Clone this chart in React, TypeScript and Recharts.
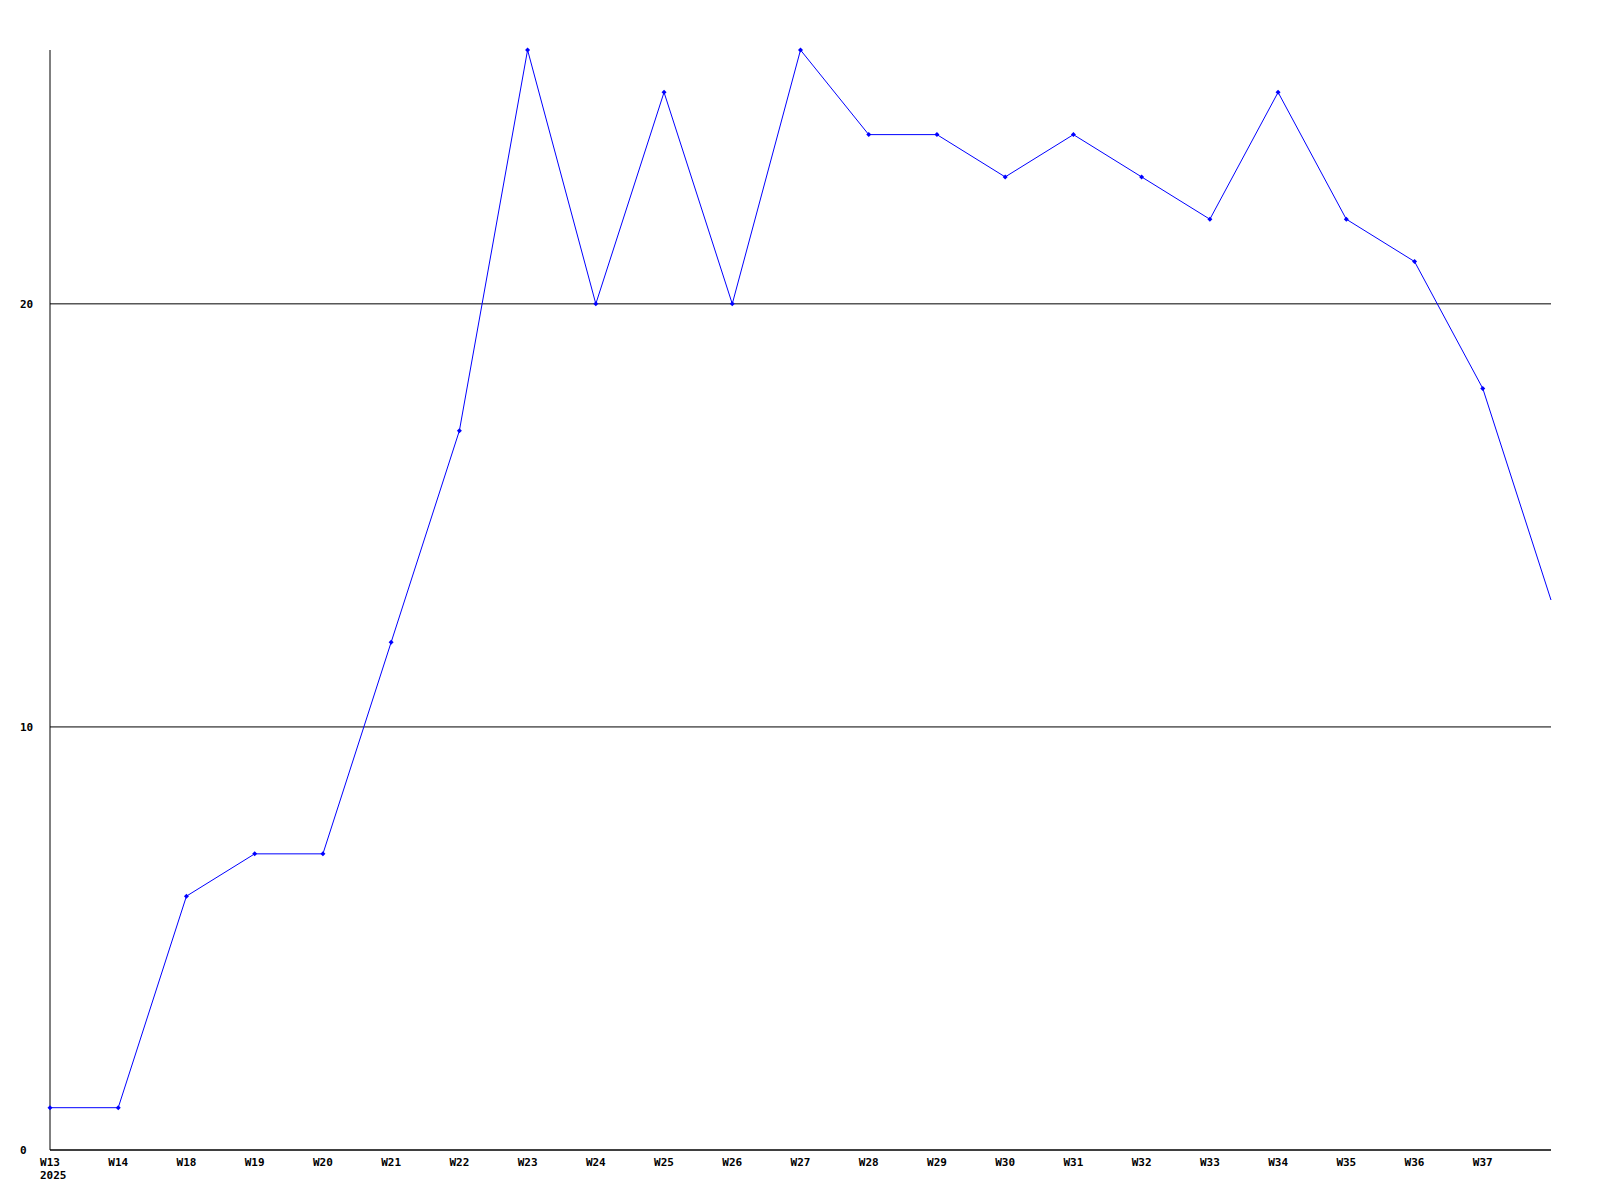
import React from 'react';
import { LineChart, Line, XAxis, YAxis, CartesianGrid } from 'recharts';

const weeks = ['W13','W14','W18','W19','W20','W21','W22','W23','W24','W25','W26','W27','W28','W29','W30','W31','W32','W33','W34','W35','W36','W37','W38'];
const values = [1,1,6,7,7,12,17,26,20,25,20,26,24,24,23,24,23,22,25,22,21,18,13];
const labelledWeeks = weeks.slice(0, 22);
const yTicks = [0, 10, 20];
const yearLabels: Record<string, string> = { W13: '2025' };

const data = weeks.map((w, i) => ({ week: w, value: values[i] }));

const FONT = '"DejaVu Sans Mono", monospace';

const XTick = (props: any) => {
  const { x, y, payload } = props;
  const year = yearLabels[payload.value];
  return (
    <g>
      <text x={x} y={y} dy={16} textAnchor="middle" fontFamily={FONT} fontSize={11} fontWeight="bold" fill="#000">
        {payload.value}
      </text>
      {year ? (
        <text x={x - 10} y={y} dy={29} textAnchor="start" fontFamily={FONT} fontSize={11} fontWeight="bold" fill="#000">
          {year}
        </text>
      ) : null}
    </g>
  );
};

const YTick = (props: any) => {
  const { y, payload } = props;
  return (
    <text x={20} y={y} dy={4} textAnchor="start" fontFamily={FONT} fontSize={11} fontWeight="bold" fill="#000">
      {payload.value}
    </text>
  );
};

const Marker = (props: any) => {
  const { cx, cy, index } = props;
  if (cx == null || cy == null || index === values.length - 1) return <g key={index} />;
  const r = 2.5;
  return (
    <polygon
      key={index}
      points={`${cx},${cy - r} ${cx + r},${cy} ${cx},${cy + r} ${cx - r},${cy}`}
      fill="#0000ff"
      stroke="none"
    />
  );
};

export default function App() {
  return (
    <div style={{ position: 'absolute', left: 0, top: 0, width: 1600, height: 1200, background: '#fff' }}>
      <LineChart width={1600} height={1200} data={data} margin={{ top: 50, right: 49, bottom: 0, left: 0 }}>
        <CartesianGrid vertical={false} horizontalValues={yTicks} stroke="#000" strokeWidth={1} />
        <XAxis
          dataKey="week"
          ticks={labelledWeeks}
          interval={0}
          tick={<XTick />}
          tickLine={false}
          axisLine={{ stroke: '#000', strokeWidth: 1 }}
          height={50}
          tickSize={0}
          tickMargin={0}
        />
        <YAxis
          domain={[0, 26]}
          ticks={yTicks}
          width={50}
          tick={<YTick />}
          tickLine={false}
          axisLine={{ stroke: '#000', strokeWidth: 1 }}
          allowDecimals={false}
        />
        <Line
          type="linear"
          dataKey="value"
          stroke="#0000ff"
          strokeWidth={1}
          dot={<Marker />}
          activeDot={false}
          isAnimationActive={false}
        />
      </LineChart>
    </div>
  );
}
